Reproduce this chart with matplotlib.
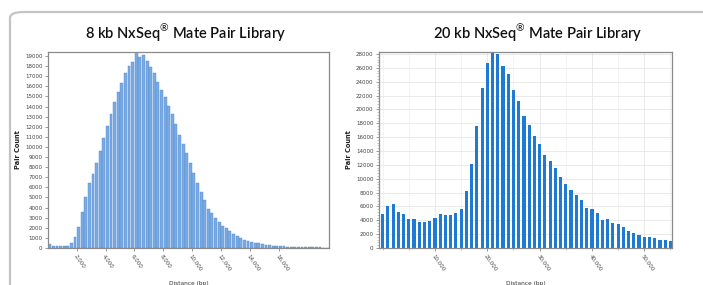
import matplotlib
matplotlib.use("Agg")
import matplotlib.pyplot as plt
from matplotlib.patches import FancyBboxPatch
from matplotlib.ticker import FuncFormatter, MultipleLocator

# ---- data ----
lib8_bin_width = 250
lib8_counts = [350, 220, 180, 170, 180, 220, 450, 1100, 2100, 3600,
               5000, 6400, 7300, 8400, 9600, 10900, 12100, 13300, 14500, 15400,
               16300, 17300, 18000, 18400, 19400, 18900, 19100, 18500, 17900, 17300,
               16400, 15600, 14900, 14100, 13300, 12300, 11200, 10300, 9400, 8400,
               7400, 6400, 5500, 4800, 3900, 3500, 3000, 2600, 2200, 1950,
               1650, 1350, 1150, 980, 840, 730, 620, 530, 460, 400,
               340, 290, 240, 210, 180, 160, 140, 120, 110, 100,
               90, 80, 70, 60, 55, 50, 45, 40]

lib20_bin_width = 1000
lib20_counts = [4900, 6000, 6300, 5200, 4900, 4200, 4200, 3700, 3700, 3900,
                4300, 4900, 4700, 4700, 5100, 5700, 8300, 12100, 17600, 23100,
                26700, 28200, 28000, 26300, 25100, 22800, 21200, 19100, 17700, 16100,
                15000, 13400, 12500, 11500, 10300, 9300, 8400, 7700, 6900, 5800,
                5700, 5100, 4100, 4200, 3600, 3400, 3100, 2400, 2100, 1900,
                1600, 1600, 1500, 1100, 1100, 1000]

lib8_xticks = [2000, 4000, 6000, 8000, 10000, 12000, 14000, 16000]
lib20_xticks = [10000, 20000, 30000, 40000, 50000]

titles = ["8 kb NxSeq$^{\u00ae}$ Mate Pair Library", "20 kb NxSeq$^{\u00ae}$ Mate Pair Library"]
xlabels = ["Distance (bp)", "Distance (bp)"]
ylabel = "Pair Count"

# ---- figure ----
W, H = 703, 285
fig = plt.figure(figsize=(W / 100, H / 100), dpi=100)
fig.patch.set_facecolor("white")
plt.rcParams["mathtext.fontset"] = "custom"
plt.rcParams["mathtext.rm"] = "Lato"

# outer rounded frame
frame = FancyBboxPatch((10 / W, -0.2), 1.2, (H - 12) / H + 0.2,
                       boxstyle="round,pad=0,rounding_size=0.02",
                       transform=fig.transFigure, facecolor="none",
                       edgecolor="#c4c4c4", linewidth=1.6, zorder=-1)
fig.patches.append(frame)

def fig_axes(x0, x1, y0, y1):
    return fig.add_axes([x0 / W, (H - y1) / H, (x1 - x0) / W, (y1 - y0) / H])

ax1 = fig_axes(48, 329, 52, 248)
ax2 = fig_axes(379, 672, 52, 248)

tick_color = "#444444"
title_font = dict(family=["Lato", "DejaVu Sans"], fontsize=10.5, color="#111111",
                  fontweight="semibold")

# left chart
x8 = [i * lib8_bin_width + lib8_bin_width / 2 for i in range(len(lib8_counts))]
ax1.bar(x8, lib8_counts, width=lib8_bin_width * 0.8, color="#7aabe2",
        edgecolor="#4f8bd2", linewidth=0.3, zorder=2)
ax1.set_xlim(0, 19500)
ax1.set_ylim(0, 19400)
ax1.yaxis.set_major_locator(MultipleLocator(1000))
ax1.set_xticks(lib8_xticks)

# right chart
x20 = [i * lib20_bin_width for i in range(len(lib20_counts))]
ax2.bar(x20, lib20_counts, width=lib20_bin_width * 0.6, color="#1f7ad6",
        edgecolor="none", zorder=2)
ax2.set_xlim(-700, 55300)
ax2.set_ylim(0, 28300)
ax2.yaxis.set_major_locator(MultipleLocator(2000))
ax2.yaxis.set_minor_locator(MultipleLocator(400))
ax2.set_xticks(lib20_xticks)
ax2.xaxis.set_minor_locator(MultipleLocator(5000))
ax2.grid(True, which="major", color="#e6e6e6", linewidth=0.6, zorder=0)
ax2.grid(True, which="minor", axis="x", color="#eeeeee", linewidth=0.5, zorder=0)
ax2.set_axisbelow(True)

comma = FuncFormatter(lambda v, p: f"{int(v):,}")
plain = FuncFormatter(lambda v, p: f"{int(v)}")

for ax, title, xl, cx in [(ax1, titles[0], xlabels[0], 185), (ax2, titles[1], xlabels[1], 538)]:
    for s in ax.spines.values():
        s.set_color("#8a8a8a")
        s.set_linewidth(0.9)
    ax.xaxis.set_major_formatter(comma)
    ax.yaxis.set_major_formatter(plain)
    ax.tick_params(axis="both", which="major", labelsize=4, colors="#888888",
                   labelcolor=tick_color, length=2.5, width=0.6, pad=1.5)
    ax.tick_params(axis="both", which="minor", colors="#999999", length=1.5, width=0.4)
    for lab in ax.get_xticklabels():
        lab.set_rotation(-55)
        lab.set_ha("left")
        lab.set_va("top")
        lab.set_rotation_mode("anchor")
    ax.set_xlabel(xl, fontsize=4.2, color="#333333", labelpad=6)
    ax.set_ylabel(ylabel, fontsize=4.8, color="#222222", fontweight="bold", labelpad=3)
    fig.text(cx / W, (H - 33) / H, title, ha="center", va="center", **title_font)

fig.savefig("out.png", dpi=100, facecolor="white")
